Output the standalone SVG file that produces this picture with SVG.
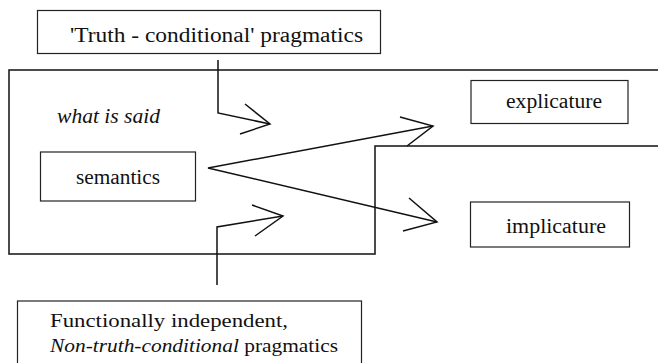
<svg xmlns="http://www.w3.org/2000/svg" width="658" height="363" viewBox="0 0 658 363">
<style>
.box{fill:none;stroke:#222;stroke-width:1.2}
.ln{fill:none;stroke:#111;stroke-width:1.5;stroke-linejoin:miter}
text{font-family:"Liberation Serif","DejaVu Serif",serif;fill:#111;font-size:20px}
.it{font-style:italic}
.sm{font-size:19px}
</style>
<rect width="658" height="363" fill="#fff"/>
<g id="truth-conditional">
<rect class="box" x="37.5" y="10.5" width="343" height="43"/>
<text x="70" y="42" textLength="293" lengthAdjust="spacingAndGlyphs">'Truth - conditional' pragmatics</text>
</g>
<g id="what-is-said-region">
<path class="ln" d="M658,70 L9,70 L9,254 L375,254 L375,146 L658,146"/>
<text class="it" x="57" y="123" font-size="19" textLength="103" lengthAdjust="spacingAndGlyphs">what is said</text>
</g>
<g id="semantics">
<rect class="box" x="40.5" y="152" width="155" height="49"/>
<text x="76" y="184" textLength="84" lengthAdjust="spacingAndGlyphs">semantics</text>
</g>
<g id="explicature">
<rect class="box" x="471" y="80.5" width="157" height="43"/>
<text x="506" y="108" textLength="96" lengthAdjust="spacingAndGlyphs">explicature</text>
</g>
<g id="implicature">
<rect class="box" x="470.5" y="202" width="159" height="45"/>
<text x="506" y="233" textLength="100" lengthAdjust="spacingAndGlyphs">implicature</text>
</g>
<g id="non-truth-conditional">
<rect class="box" x="17.5" y="301" width="344" height="70"/>
<text class="sm" x="50" y="327" textLength="238" lengthAdjust="spacingAndGlyphs">Functionally independent,</text>
<text class="sm" x="50" y="352" textLength="288" lengthAdjust="spacingAndGlyphs"><tspan class="it">Non-truth-conditional</tspan> pragmatics</text>
</g>
<g id="connectors">
<path class="ln" d="M218,60 L218,113 L270,124"/>
<path class="ln" d="M245,104 L270,124 L240,134"/>
<path class="ln" d="M433,126 L208,168 L437,222"/>
<path class="ln" d="M400,117 L433,126 L407,146"/>
<path class="ln" d="M409,198 L437,222 L403,231"/>
<path class="ln" d="M217,285 L217,227 L283,216"/>
<path class="ln" d="M252,205 L283,216 L255,236"/>
</g>
</svg>
